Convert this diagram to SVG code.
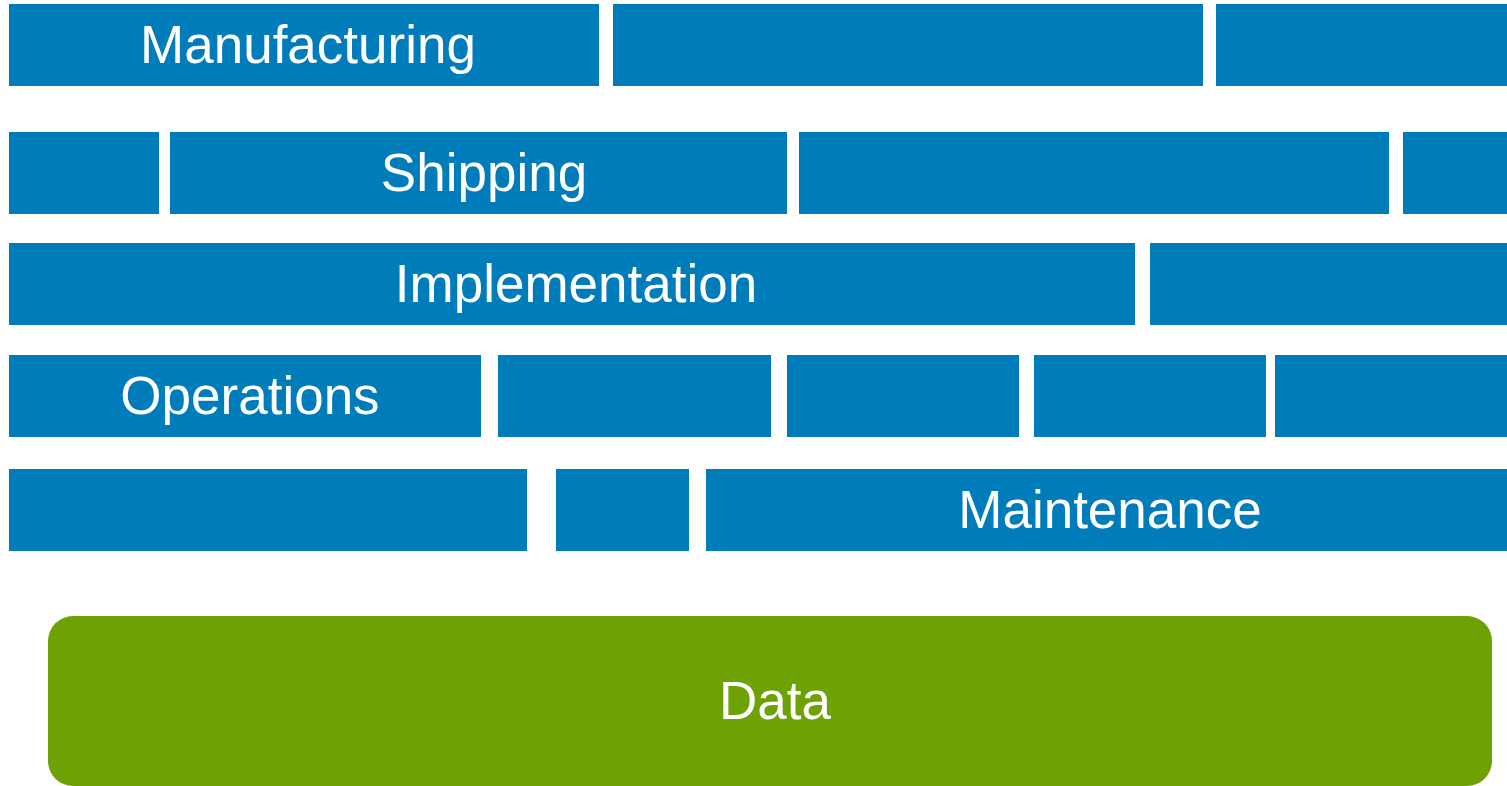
<svg xmlns="http://www.w3.org/2000/svg" width="1507" height="786" viewBox="0 0 1507 786">
<style>
.b{fill:#007cba}
.g{fill:#6ea204}
.t{font-family:"Liberation Sans",Arial,sans-serif;font-size:53px;fill:#ffffff;text-anchor:middle}
</style>
<rect width="1507" height="786" fill="#ffffff"/>
<g id="row1">
<g id="manufacturing"><rect class="b" x="9" y="4" width="590" height="82"/><text class="t" x="308" y="63">Manufacturing</text></g>
<g id="r1b2"><rect class="b" x="613" y="4" width="590" height="82"/></g>
<g id="r1b3"><rect class="b" x="1216" y="4" width="291" height="82"/></g>
</g>
<g id="row2">
<g id="r2b1"><rect class="b" x="9" y="132" width="150" height="82"/></g>
<g id="shipping"><rect class="b" x="170" y="132" width="617" height="82"/><text class="t" x="484" y="191">Shipping</text></g>
<g id="r2b3"><rect class="b" x="799" y="132" width="590" height="82"/></g>
<g id="r2b4"><rect class="b" x="1403" y="132" width="104" height="82"/></g>
</g>
<g id="row3">
<g id="implementation"><rect class="b" x="9" y="243" width="1126" height="82"/><text class="t" x="576" y="302">Implementation</text></g>
<g id="r3b2"><rect class="b" x="1150" y="243" width="357" height="82"/></g>
</g>
<g id="row4">
<g id="operations"><rect class="b" x="9" y="355" width="472" height="82"/><text class="t" x="250" y="414">Operations</text></g>
<g id="r4b2"><rect class="b" x="498" y="355" width="273" height="82"/></g>
<g id="r4b3"><rect class="b" x="787" y="355" width="232" height="82"/></g>
<g id="r4b4"><rect class="b" x="1034" y="355" width="232" height="82"/></g>
<g id="r4b5"><rect class="b" x="1275" y="355" width="232" height="82"/></g>
</g>
<g id="row5">
<g id="r5b1"><rect class="b" x="9" y="469" width="518" height="82"/></g>
<g id="r5b2"><rect class="b" x="556" y="469" width="133" height="82"/></g>
<g id="maintenance"><rect class="b" x="706" y="469" width="801" height="82"/><text class="t" x="1110" y="528">Maintenance</text></g>
</g>
<g id="data"><rect class="g" x="48" y="616" width="1444" height="170" rx="25" ry="25"/><text class="t" x="775" y="719">Data</text></g>
<g id="connectors"></g>
</svg>
